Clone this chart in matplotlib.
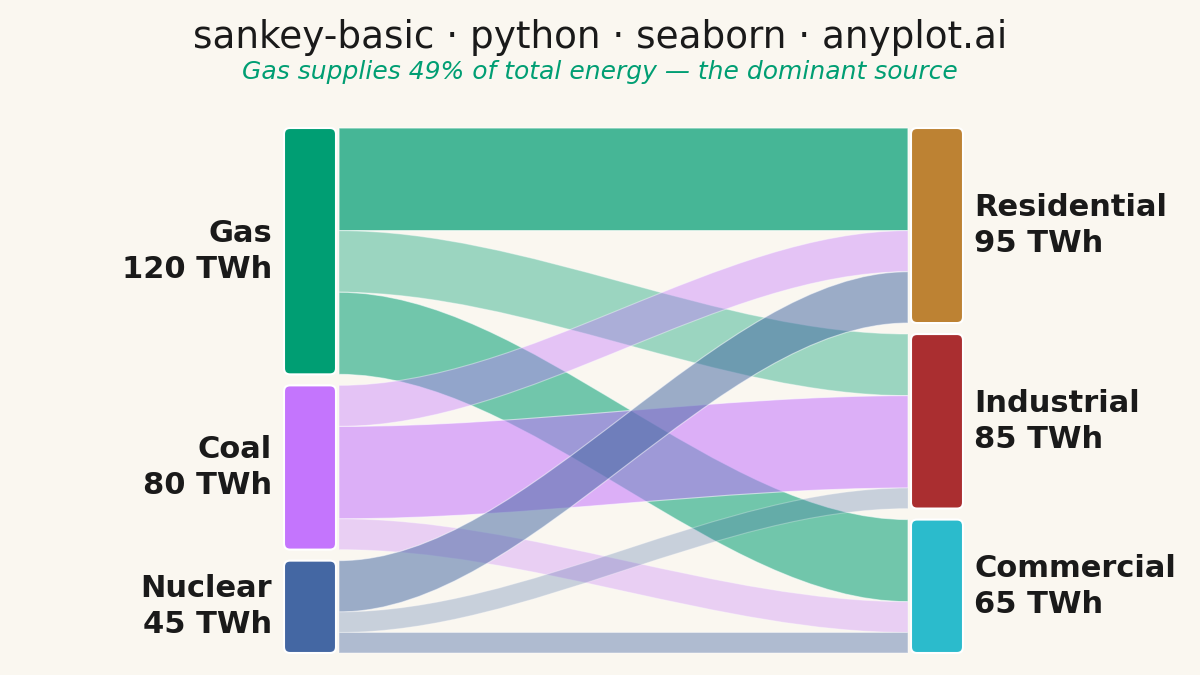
import numpy as np
import matplotlib.pyplot as plt
from matplotlib.patches import FancyBboxPatch, PathPatch
from matplotlib.path import Path

# Data
sources = ["Gas", "Coal", "Nuclear"]
targets = ["Residential", "Industrial", "Commercial"]
# flows[i][j] = TWh from sources[i] to targets[j]
flows = [
    [50, 30, 40],
    [20, 45, 15],
    [25, 10, 10],
]

title = "sankey-basic · python · seaborn · anyplot.ai"
subtitle = "Gas supplies 49% of total energy — the dominant source"

# Style
bg = "#FAF7F0"
ink = "#1A1A1A"
source_colors = {"Gas": "#009E73", "Coal": "#C475FD", "Nuclear": "#4467A3"}
target_colors = {"Residential": "#BD8233", "Industrial": "#AA2E30", "Commercial": "#2BBBCC"}
flow_alpha = [
    [0.72, 0.38, 0.55],
    [0.40, 0.55, 0.30],
    [0.52, 0.27, 0.41],
]

# Layout (pixel-like units, y grows downward)
left_x, right_x, node_w = 284, 911, 52
top_y, gap = 128, 11
total_h = 525
flow_pad = 3

flows = np.array(flows, dtype=float)
src_tot = flows.sum(axis=1)
tgt_tot = flows.sum(axis=0)
scale = (total_h - gap * (len(sources) - 1)) / src_tot.sum()

fig = plt.figure(figsize=(12, 6.75), dpi=100)
fig.patch.set_facecolor(bg)
ax = fig.add_axes([0, 0, 1, 1])
ax.set_facecolor(bg)
ax.set_xlim(0, 1200)
ax.set_ylim(675, 0)
ax.axis("off")


def node_tops(totals):
    tops = []
    y = top_y
    for t in totals:
        tops.append(y)
        y += t * scale + gap
    return tops


src_top = node_tops(src_tot)
tgt_top = node_tops(tgt_tot)

# flows: cubic bezier with control points at 1/3 and 2/3 of the span
src_off = list(src_top)
tgt_off = list(tgt_top)
x0 = left_x + node_w + flow_pad
x1 = right_x - flow_pad
xa = x0 + (x1 - x0) / 3
xb = x1 - (x1 - x0) / 3
for i, s in enumerate(sources):
    for j, t in enumerate(targets):
        h = flows[i, j] * scale
        ya, yb = src_off[i], tgt_off[j]
        verts = [
            (x0, ya), (xa, ya), (xb, yb), (x1, yb),
            (x1, yb + h),
            (xb, yb + h), (xa, ya + h), (x0, ya + h),
            (x0, ya),
        ]
        codes = [Path.MOVETO, Path.CURVE4, Path.CURVE4, Path.CURVE4,
                 Path.LINETO,
                 Path.CURVE4, Path.CURVE4, Path.CURVE4,
                 Path.CLOSEPOLY]
        ax.add_patch(PathPatch(Path(verts, codes), facecolor=source_colors[s],
                               alpha=flow_alpha[i][j], edgecolor="white",
                               linewidth=0.8, zorder=2))
        src_off[i] += h
        tgt_off[j] += h

# nodes
for name, top, tot in zip(sources, src_top, src_tot):
    h = tot * scale
    ax.add_patch(FancyBboxPatch((left_x, top), node_w, h,
                                boxstyle="round,pad=0,rounding_size=6",
                                facecolor=source_colors[name], edgecolor="white",
                                linewidth=1.5, zorder=3))
    ax.text(left_x - 12, top + h / 2, f"{name}\n{tot:.0f} TWh", ha="right", va="center",
            fontsize=22, fontweight="bold", color=ink, linespacing=1.32)

for name, top, tot in zip(targets, tgt_top, tgt_tot):
    h = tot * scale
    ax.add_patch(FancyBboxPatch((right_x, top), node_w, h,
                                boxstyle="round,pad=0,rounding_size=6",
                                facecolor=target_colors[name], edgecolor="white",
                                linewidth=1.5, zorder=3))
    ax.text(right_x + node_w + 11, top + h / 2, f"{name}\n{tot:.0f} TWh", ha="left", va="center",
            fontsize=22, fontweight="bold", color=ink, linespacing=1.32)

fig.text(0.5, 1 - 37.5 / 675, title, ha="center", va="center", fontsize=26.9, color=ink)
fig.text(0.5, 1 - 72 / 675, subtitle, ha="center", va="center", fontsize=18,
         style="italic", color="#009E73")

fig.savefig("out.png", dpi=100, facecolor=bg)
